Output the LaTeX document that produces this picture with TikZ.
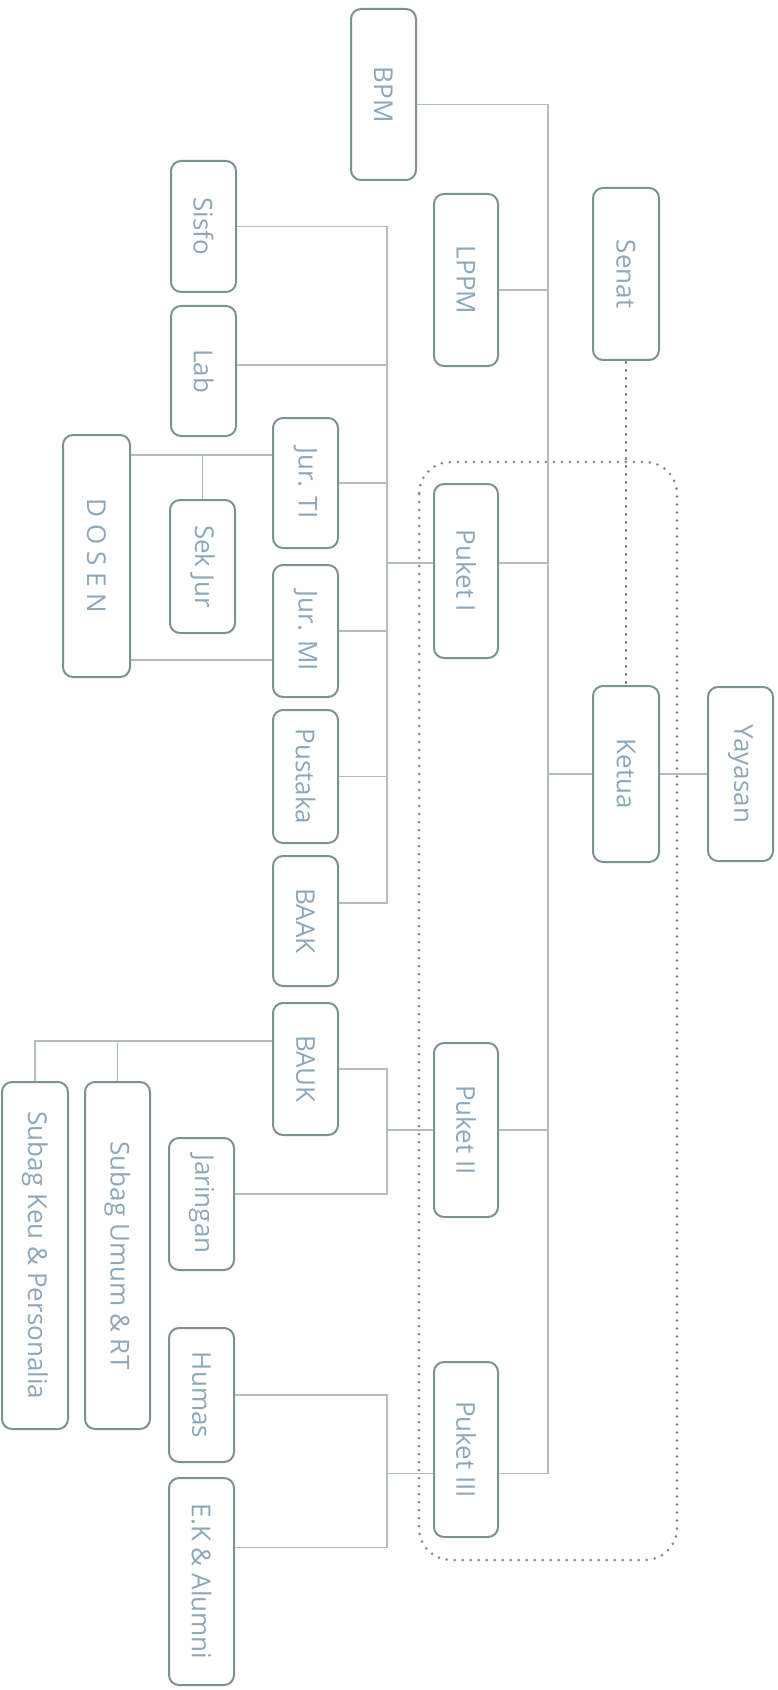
\documentclass[tikz,border=0pt]{standalone}
\usepackage{fontspec}
\setmainfont{Open Sans}
\usepackage{graphicx}
\usepackage{xcolor}
\usepackage{tikz}
\usetikzlibrary{positioning}

\definecolor{boxline}{RGB}{124,146,150}
\definecolor{linkline}{RGB}{176,189,195}
\definecolor{labeltext}{RGB}{140,168,186}
\definecolor{groupline}{RGB}{130,142,148}

\newcommand{\vlabel}[1]{\rotatebox{-90}{#1}}

\begin{document}
\begin{tikzpicture}[
    x=0.5pt, y=-0.5pt,
    % Node styles
    unit/.style 2 args={rectangle, rounded corners=5pt, draw=boxline, line width=1pt, fill=white, text=labeltext, inner sep=0pt, minimum width=#1*0.5pt, minimum height=#2*0.5pt, font=\fontsize{13pt}{15pt}\selectfont},
    link/.style={linkline, line width=0.7pt},
    group/.style={groupline, line width=1.5pt, line cap=round, dash pattern=on 0pt off 4pt, rounded corners=16pt},
    tie/.style={groupline, line width=0.9pt, dash pattern=on 1.5pt off 2.5pt},
]
\useasboundingbox (0,0) rectangle (777,1690);

% Pimpinan group (dotted frame)
\draw[group] (419,462) rectangle (677,1560);

% Top level
\node[unit={65}{171}] (bpm) at (383.5,94.5) {\vlabel{BPM}};
\node[unit={64}{172}] (lppm) at (466,280) {\vlabel{LPPM}};
\node[unit={66}{172}] (senat) at (626,274) {\vlabel{Senat}};
\node[unit={66}{176}] (ketua) at (626,774) {\vlabel{Ketua}};
\node[unit={65}{174}, right=23.5pt of ketua] (yayasan) {\vlabel{Yayasan}};

% Pembantu ketua
\node[unit={64}{174}] (puket1) at (466,571) {\vlabel{Puket I}};
\node[unit={64}{174}] (puket2) at (466,1130) {\vlabel{Puket II}};
\node[unit={64}{175}] (puket3) at (466,1449.5) {\vlabel{Puket III}};

% Units under Puket I
\node[unit={65}{131}] (sisfo) at (203.5,226.5) {\vlabel{Sisfo}};
\node[unit={65}{130}, below=6pt of sisfo] (lab) {\vlabel{Lab}};
\node[unit={65}{130}] (jurti) at (305.5,483) {\vlabel{Jur. TI}};
\node[unit={65}{132}, below=7.5pt of jurti] (jurmi) {\vlabel{Jur. MI}};
\node[unit={65}{133}, below=5.5pt of jurmi] (pustaka) {\vlabel{Pustaka}};
\node[unit={65}{130}, below=5.5pt of pustaka] (baak) {\vlabel{BAAK}};
\node[unit={67}{242}] (dosen) at (96.5,556) {\vlabel{D O S E N}};
\node[unit={65}{133}] (sekjur) at (202.5,566.5) {\vlabel{Sek Jur}};

% Units under Puket II
\node[unit={65}{132}, below=7.5pt of baak] (bauk) {\vlabel{BAUK}};
\node[unit={65}{132}] (jaringan) at (201.5,1204) {\vlabel{Jaringan}};
\node[unit={66}{347}] (subkeu) at (35,1255.5) {\vlabel{Subag Keu \& Personalia}};
\node[unit={65}{347}, right=7.5pt of subkeu] (subumum) {\vlabel{Subag Umum \& RT}};

% Units under Puket III
\node[unit={65}{134}] (humas) at (201.5,1395) {\vlabel{Humas}};
\node[unit={65}{207}, below=7pt of humas] (ekalumni) {\vlabel{E.K \& Alumni}};

% Trunk coordinates
\coordinate (trunk) at (548,0);
\coordinate (branch) at (387,0);

% Main trunk
\draw[link] ([yshift=-5pt]bpm.east) coordinate (c-bpm) -- (c-bpm -| trunk)
    -- ([yshift=-12pt]puket3.east -| trunk) -- ([yshift=-12pt]puket3.east);
\draw[link] ([yshift=-5pt]lppm.east) -- ([yshift=-5pt]lppm.east -| trunk);
\draw[link] ([yshift=4pt]puket1.east) -- ([yshift=4pt]puket1.east -| trunk);
\draw[link] (ketua.west) -- (ketua.west -| trunk);
\draw[link] (puket2.east) -- (puket2.east -| trunk);
\draw[link] (ketua.east) -- (yayasan.west);
\draw[tie] (senat.south) -- (ketua.north);

% Puket I branch
\draw[link] (sisfo.east) -- (sisfo.east -| branch) -- ([yshift=9pt]baak.east -| branch) -- ([yshift=9pt]baak.east);
\draw[link] ([yshift=3pt]lab.east) -- ([yshift=3pt]lab.east -| branch);
\draw[link] (jurti.east) -- (jurti.east -| branch);
\draw[link] (jurmi.east) -- (jurmi.east -| branch);
\draw[link] (pustaka.east) -- (pustaka.east -| branch);
\draw[link] ([yshift=4pt]puket1.west) -- ([yshift=4pt]puket1.west -| branch);
\draw[link] ([yshift=14pt]jurti.west) coordinate (c-ti) -- (c-ti -| dosen.east);
\draw[link] ([yshift=-14.5pt]jurmi.west) coordinate (c-mi) -- (c-mi -| dosen.east);
\draw[link] (sekjur.north) -- (sekjur.north |- c-ti);

% Puket II branch
\draw[link] (bauk.east) -- (bauk.east -| branch) -- ([yshift=5pt]jaringan.east -| branch) -- ([yshift=5pt]jaringan.east);
\draw[link] (puket2.west) -- (puket2.west -| branch);
\draw[link] ([yshift=14pt]bauk.west) coordinate (c-bauk) -- (c-bauk -| subkeu.north) -- (subkeu.north);
\draw[link] (subumum.north) -- (subumum.north |- c-bauk);

% Puket III branch
\draw[link] (humas.east) -- (humas.east -| branch) -- ([yshift=17pt]ekalumni.east -| branch) -- ([yshift=17pt]ekalumni.east);
\draw[link] ([yshift=-12pt]puket3.west) -- ([yshift=-12pt]puket3.west -| branch);

\end{tikzpicture}
\end{document}
